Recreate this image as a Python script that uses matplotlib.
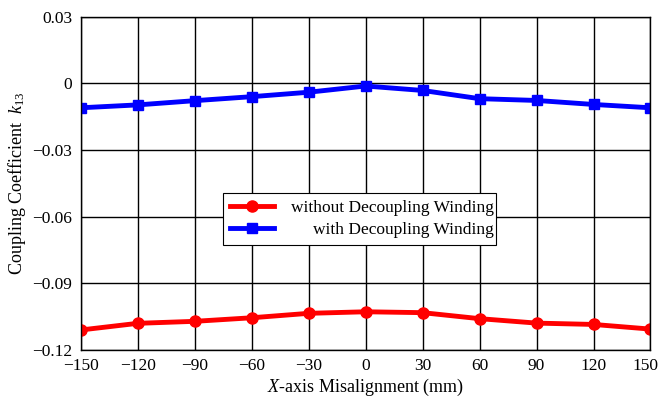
import numpy as np
import matplotlib.pyplot as plt
import matplotlib.transforms as mtransforms

plt.rcParams['font.family'] = ['Liberation Serif', 'DejaVu Serif']
plt.rcParams['mathtext.fontset'] = 'custom'
plt.rcParams['mathtext.rm'] = 'Liberation Serif'
plt.rcParams['mathtext.it'] = 'Liberation Serif:italic'

# data
x = [-150, -120, -90, -60, -30, 0, 30, 60, 90, 120, 150]
k13_without = [-0.1110, -0.1080, -0.1071, -0.1055, -0.1035, -0.1028, -0.1032, -0.1059, -0.1079, -0.1085, -0.1106]
k13_with = [-0.0110, -0.0097, -0.0078, -0.0060, -0.0040, -0.0012, -0.0032, -0.0069, -0.0077, -0.0095, -0.0110]
xticks = [-150, -120, -90, -60, -30, 0, 30, 60, 90, 120, 150]
yticks = [0.03, 0, -0.03, -0.06, -0.09, -0.12]
ytick_labels = ['0.03', '0', '\u22120.03', '\u22120.06', '\u22120.09', '\u22120.12']
xtick_labels = [str(v).replace('-', '\u2212') for v in xticks]

fig = plt.figure(figsize=(6.6, 4.01), dpi=100)
ax = fig.add_axes([0.1223, 0.1272, 0.8633, 0.8312])

ax.plot(x, k13_without, color='#ff0000', lw=3.5, marker='o', ms=8, label='without Decoupling Winding')
ax.plot(x, k13_with, color='#0000ff', lw=3.5, marker='s', ms=7.5, label='with Decoupling Winding')

ax.set_xlim(-150, 150)
ax.set_ylim(-0.12, 0.03)
ax.set_xticks(xticks)
ax.set_xticklabels(xtick_labels)
ax.set_yticks(yticks)
ax.set_yticklabels(ytick_labels)
ax.tick_params(length=0, labelsize=12.5, pad=6)
ax.grid(True, color='black', lw=1)
ax.set_axisbelow(True)
for s in ax.spines.values():
    s.set_linewidth(1)

# last x label is pulled in a little so it stays inside the figure
last = ax.get_xticklabels()[-1]
last.set_transform(last.get_transform() + mtransforms.ScaledTranslation(-5 / 100, 0, fig.dpi_scale_trans))

ax.set_xlabel('$X$-axis Misalignment (mm)', fontsize=13, labelpad=2)
ax.set_ylabel('Coupling Coefficient  $k_{13}$', fontsize=13, labelpad=3)

leg = ax.legend(loc='upper left', bbox_to_anchor=(0.25, 0.471), borderaxespad=0,
                fontsize=12.5, frameon=True, fancybox=False, edgecolor='black',
                framealpha=1, handlelength=2.5, borderpad=0.4, labelspacing=0.35,
                handletextpad=0.7)
leg.get_frame().set_linewidth(0.8)

# right-align legend texts (nudged a bit toward the right edge)
fig.canvas.draw()
r = fig.canvas.get_renderer()
widths = [t.get_window_extent(r).width for t in leg.get_texts()]
w = max(widths)
for t, wi in zip(leg.get_texts(), widths):
    t.set_position((w - wi + 5, 0))

fig.savefig('out.png', dpi=100)
